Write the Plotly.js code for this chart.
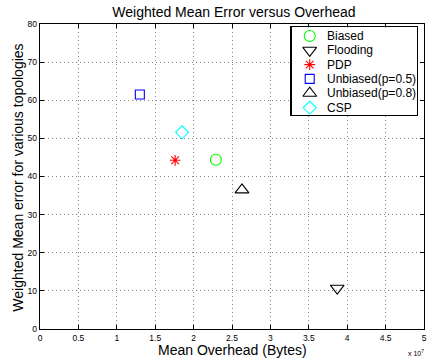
<!DOCTYPE html>
<html>
<head>
<meta charset="utf-8">
<script src="https://cdn.plot.ly/plotly-3.0.1.min.js"></script>
<style>html,body{margin:0;padding:0;background:#fff;}#chart{width:427px;height:364px;}</style>
</head>
<body>
<div id="chart"></div>
<script>
// Data (x in units of 10^7 bytes)
var seriesNames = ['Biased', 'Flooding', 'PDP', 'Unbiased(p=0.5)', 'Unbiased(p=0.8)', 'CSP'];
var meanOverhead = [2.29, 3.87, 1.76, 1.30, 2.63, 1.85];
var weightedError = [44.4, 10.7, 44.25, 61.5, 36.5, 51.6];
var xTickVals = [0, 0.5, 1, 1.5, 2, 2.5, 3, 3.5, 4, 4.5, 5];
var yTickVals = [0, 10, 20, 30, 40, 50, 60, 70, 80];

// Styles
var symbols = ['circle-open', 'triangle-down-open', 'asterisk-open', 'square-open', 'triangle-up-open', 'diamond-open'];
var colors = ['#00ff00', '#000000', '#ff0000', '#0000ff', '#000000', '#00ffff'];
var sizes = [11, 12, 9, 9, 12, 10];
var FONT = 'Liberation Sans, Arial, Helvetica, sans-serif';
var xRange = [0, 5], yRange = [0, 80];
var legendXDomain = [0.655, 0.982], legendYDomain = [0.7016, 0.9892];

var traces = [];
var annotations = [];
for (var i = 0; i < seriesNames.length; i++) {
  traces.push({
    type: 'scatter', mode: 'markers', name: seriesNames[i],
    x: [meanOverhead[i]], y: [weightedError[i]],
    xaxis: 'x', yaxis: 'y', showlegend: false, cliponaxis: false,
    marker: {symbol: symbols[i], size: sizes[i], color: colors[i], line: {color: colors[i], width: 1.1}}
  });
  // manual legend entry (row index i on legend axes)
  traces.push({
    type: 'scatter', mode: 'markers', name: seriesNames[i],
    x: [0.145], y: [i], xaxis: 'x2', yaxis: 'y2', showlegend: false, cliponaxis: false,
    hoverinfo: 'skip',
    marker: {symbol: symbols[i], size: sizes[i], color: colors[i], line: {color: colors[i], width: 1.1}}
  });
  annotations.push({
    xref: 'x2', yref: 'y2', x: 0.27, y: i, xanchor: 'left', yanchor: 'middle',
    text: seriesNames[i], showarrow: false, font: {family: FONT, size: 12, color: '#000'}
  });
}
// axis titles and exponent label
annotations.push({
  xref: 'paper', yref: 'paper', x: 0.5, y: -0.0689, xanchor: 'center', yanchor: 'middle',
  text: 'Mean Overhead (Bytes)', showarrow: false, font: {family: FONT, size: 14, color: '#000'}
});
annotations.push({
  xref: 'paper', yref: 'paper', x: -0.0583, y: 0.495, xanchor: 'center', yanchor: 'middle', textangle: -90,
  text: 'Weighted Mean error for various topologies', showarrow: false, font: {family: FONT, size: 14, color: '#000'}
});
annotations.push({
  xref: 'paper', yref: 'paper', x: 1.005, y: -0.079, xanchor: 'right', yanchor: 'middle',
  text: 'x 10<sup>7</sup>', showarrow: false, font: {family: FONT, size: 7, color: '#000'}
});

var axisCommon = {
  showline: true, linecolor: '#000', linewidth: 1.3, mirror: 'ticks',
  ticks: 'inside', ticklen: 4, tickcolor: '#000', tickwidth: 1,
  showgrid: true, gridcolor: '#858585', griddash: '1px,3px', gridwidth: 1,
  zeroline: false, ticklabeloverflow: 'allow',
  tickfont: {family: FONT, size: 8.5, color: '#000'}
};

var layout = {
  width: 427, height: 364,
  margin: {l: 40, r: 3, t: 24, b: 35},
  paper_bgcolor: '#fff', plot_bgcolor: '#fff',
  showlegend: false,
  font: {family: FONT, color: '#000'},
  title: {text: 'Weighted Mean Error versus Overhead', font: {family: FONT, size: 14, color: '#000'},
          x: 0.548, xanchor: 'center', y: 0.967, yanchor: 'middle', yref: 'container'},
  xaxis: Object.assign({}, axisCommon, {range: xRange, tickvals: xTickVals, domain: [0, 1]}),
  yaxis: Object.assign({}, axisCommon, {range: yRange, tickvals: yTickVals, domain: [0, 1]}),
  xaxis2: {domain: legendXDomain, range: [0, 1], anchor: 'y2', showline: true, mirror: true,
           linecolor: '#000', linewidth: 1.3, showgrid: false, zeroline: false, showticklabels: false, ticks: ''},
  yaxis2: {domain: legendYDomain, range: [5.524, -0.608], anchor: 'x2', showline: true, mirror: true,
           linecolor: '#000', linewidth: 1.3, showgrid: false, zeroline: false, showticklabels: false, ticks: ''},
  shapes: [{
    // opaque legend background, drawn between the main grid and the data
    type: 'rect', xref: 'x', yref: 'y',
    x0: xRange[0] + legendXDomain[0] * (xRange[1] - xRange[0]),
    x1: xRange[0] + legendXDomain[1] * (xRange[1] - xRange[0]),
    y0: yRange[0] + legendYDomain[0] * (yRange[1] - yRange[0]),
    y1: yRange[0] + legendYDomain[1] * (yRange[1] - yRange[0]),
    fillcolor: '#fff', line: {width: 0}, layer: 'between'
  }],
  annotations: annotations
};

Plotly.newPlot('chart', traces, layout, {displayModeBar: false, staticPlot: true});
</script>
</body>
</html>
